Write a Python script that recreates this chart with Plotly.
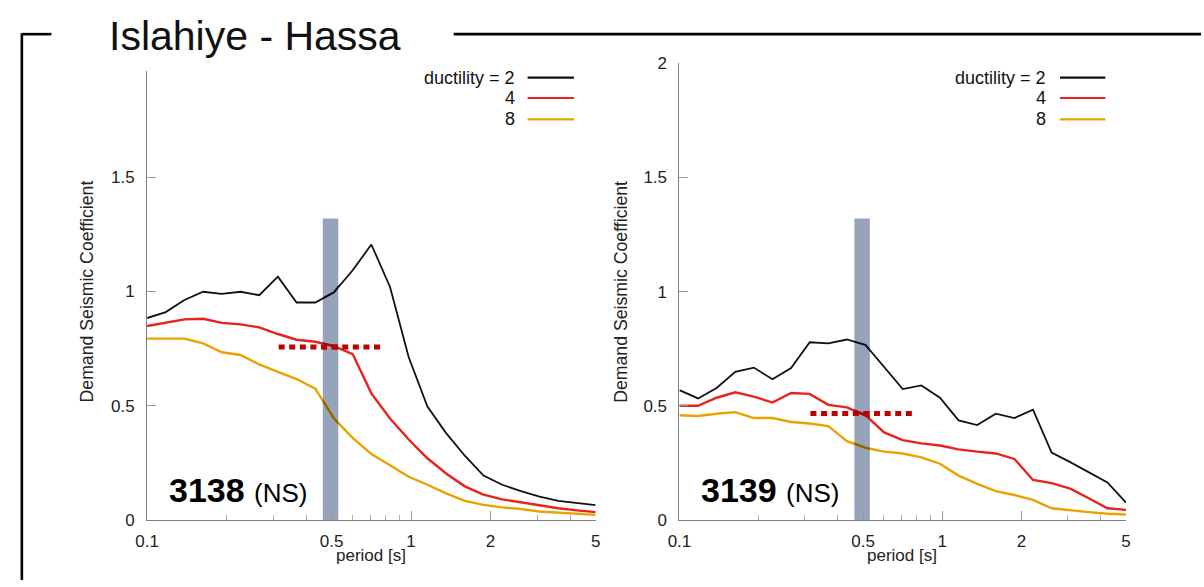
import math
import plotly.graph_objects as go

W, H = 1204, 587

# ---------------- data ----------------
periods = [0.1, 0.1177, 0.1385, 0.1631, 0.1919, 0.2259, 0.2659, 0.313, 0.3684, 0.4336,
           0.5104, 0.6008, 0.7071, 0.8323, 0.9796, 1.1531, 1.3572, 1.5975, 1.8803,
           2.2131, 2.605, 3.0661, 3.6089, 4.2478, 5.0]

s3138_mu2 = [0.884, 0.910, 0.963, 0.999, 0.990, 0.999, 0.984, 1.065, 0.952, 0.952, 0.997,
             1.093, 1.206, 1.02, 0.712, 0.496, 0.380, 0.281, 0.194, 0.154, 0.126, 0.102,
             0.083, 0.073, 0.065]
s3138_mu4 = [0.849, 0.863, 0.878, 0.881, 0.863, 0.856, 0.843, 0.814, 0.789, 0.780, 0.761,
             0.726, 0.554, 0.444, 0.352, 0.270, 0.203, 0.147, 0.111, 0.090, 0.077, 0.062,
             0.051, 0.042, 0.034]
s3138_mu8 = [0.794, 0.795, 0.794, 0.773, 0.734, 0.722, 0.681, 0.648, 0.617, 0.575, 0.444,
             0.359, 0.288, 0.239, 0.189, 0.154, 0.116, 0.083, 0.066, 0.055, 0.048, 0.037,
             0.031, 0.026, 0.022]

s3139_mu2 = [0.568, 0.532, 0.578, 0.648, 0.667, 0.616, 0.665, 0.778, 0.773, 0.790, 0.766,
             0.670, 0.573, 0.589, 0.535, 0.436, 0.415, 0.465, 0.446, 0.483, 0.295, 0.253,
             0.208, 0.164, 0.076]
s3139_mu4 = [0.500, 0.500, 0.535, 0.559, 0.540, 0.514, 0.556, 0.552, 0.504, 0.493, 0.458,
             0.383, 0.349, 0.335, 0.326, 0.309, 0.299, 0.291, 0.267, 0.175, 0.161, 0.137,
             0.095, 0.051, 0.044]
s3139_mu8 = [0.458, 0.455, 0.465, 0.472, 0.446, 0.446, 0.429, 0.422, 0.411, 0.345, 0.316,
             0.299, 0.291, 0.274, 0.246, 0.194, 0.158, 0.126, 0.109, 0.088, 0.051, 0.041,
             0.034, 0.027, 0.024]

ductilities = ["2", "4", "8"]
stations = ["3138", "3139"]
component = "(NS)"

band_period = [0.463, 0.530]
band_top = 1.32
target_period = [0.315, 0.785]
target_coef = [0.757, 0.466]

x_tickvals = [0.1, 0.5, 1, 2, 5]
x_ticktext = ["0.1", "0.5", "1", "2", "5"]
x_minor = [0.2, 0.3, 0.4, 0.6, 0.7, 0.8, 0.9, 3, 4]
y_tickvals_left = [0, 0.5, 1, 1.5]
y_ticktext_left = ["0", "0.5", "1", "1.5"]
y_tickvals_right = [0, 0.5, 1, 1.5, 2]
y_ticktext_right = ["0", "0.5", "1", "1.5", "2"]

# ---------------- styles ----------------
FONT = "Liberation Sans, Arial, Helvetica, sans-serif"
colors = ["#111111", "#e8231b", "#e9a200"]
colors_in_band = ["#111111", "#8a1614", "#8a6800"]   # line colour seen through the band
widths = [1.8, 2.4, 2.4]
BAND = "#97a3bb"
DOT = "#c00000"
DOT_DASH = "6px,4.6px"

X_RANGE = [-1, math.log10(5)]


def px(x):
    return x / W


def py(y):
    return 1 - y / H


# plot areas in pixels (left, right, top)
areas = [(137, 592, 64), (677, 1130, 56)]
y_ranges = [[0, 1.966], [0, 2]]

fig = go.Figure()

panels = [
    ("x", "y", "x3", [s3138_mu2, s3138_mu4, s3138_mu8], target_coef[0]),
    ("x2", "y2", "x4", [s3139_mu2, s3139_mu4, s3139_mu8], target_coef[1]),
]

for xa, ya, xb, series, tgt in panels:
    for i, vals in enumerate(series):
        fig.add_trace(go.Scatter(x=periods, y=vals, mode="lines", xaxis=xa, yaxis=ya,
                                 line=dict(color=colors[i], width=widths[i]),
                                 showlegend=False, hoverinfo="skip"))
    fig.add_trace(go.Scatter(x=target_period, y=[tgt, tgt], mode="lines", xaxis=xa, yaxis=ya,
                             line=dict(color=DOT, width=5, dash=DOT_DASH),
                             showlegend=False, hoverinfo="skip"))
    fig.add_shape(type="rect", xref=xa, yref=ya, x0=band_period[0], x1=band_period[1],
                  y0=0, y1=band_top, fillcolor=BAND, line=dict(width=0), layer="below")
    # same curves seen through the translucent band (clipped by an overlay axis)
    for i, vals in enumerate(series):
        fig.add_trace(go.Scatter(x=periods, y=vals, mode="lines", xaxis=xb, yaxis=ya,
                                 line=dict(color=colors_in_band[i], width=widths[i]),
                                 showlegend=False, hoverinfo="skip"))
    fig.add_trace(go.Scatter(x=target_period, y=[tgt, tgt], mode="lines", xaxis=xb, yaxis=ya,
                             line=dict(color=DOT, width=5, dash=DOT_DASH),
                             showlegend=False, hoverinfo="skip"))

axis_common = dict(showline=True, linecolor="#7f7f7f", linewidth=1, ticks="inside",
                   tickcolor="#9a9a9a", ticklen=9, tickwidth=1, showgrid=False,
                   zeroline=False, tickfont=dict(family=FONT, size=17, color="#222222"))

xcommon = dict(axis_common, type="log", range=X_RANGE, tickmode="array",
               tickvals=x_tickvals, ticktext=x_ticktext, ticklabelstandoff=6,
               minor=dict(tickmode="array", tickvals=x_minor, ticks="inside", ticklen=5,
                          tickcolor="#b0b0b0", tickwidth=1, showgrid=False))


def band_axis(area, anchor):
    l, r, _ = area
    span = X_RANGE[1] - X_RANGE[0]
    b0 = l + (math.log10(band_period[0]) - X_RANGE[0]) / span * (r - l)
    b1 = l + (math.log10(band_period[1]) - X_RANGE[0]) / span * (r - l)
    return dict(type="log", range=[math.log10(band_period[0]), math.log10(band_period[1])],
                domain=[px(b0), px(b1)], anchor=anchor, visible=False, showgrid=False,
                zeroline=False)


fig.update_layout(
    width=W, height=H, margin=dict(l=0, r=0, t=0, b=0),
    paper_bgcolor="white", plot_bgcolor="rgba(0,0,0,0)",
    showlegend=False,
    xaxis=dict(xcommon, domain=[px(areas[0][0]), px(areas[0][1])], anchor="y"),
    xaxis2=dict(xcommon, domain=[px(areas[1][0]), px(areas[1][1])], anchor="y2"),
    xaxis3=band_axis(areas[0], "y"),
    xaxis4=band_axis(areas[1], "y2"),
    yaxis=dict(axis_common, range=y_ranges[0], domain=[py(528), py(areas[0][2])], anchor="x",
               tickmode="array", tickvals=y_tickvals_left, ticktext=y_ticktext_left,
               ticklabelstandoff=8),
    yaxis2=dict(axis_common, range=y_ranges[1], domain=[py(528), py(areas[1][2])], anchor="x2",
                tickmode="array", tickvals=y_tickvals_right, ticktext=y_ticktext_right,
                ticklabelstandoff=8),
)

# frame lines
for (x0, y0, x1, y1) in [(10, 26, 40, 26), (10, 25, 10, 590), (448, 26, 1206, 26)]:
    fig.add_shape(type="line", xref="paper", yref="paper", x0=px(x0), y0=py(y0),
                  x1=px(x1), y1=py(y1), line=dict(color="black", width=2.6))

anns = []
anns.append(dict(text="Islahiye - Hassa", x=px(96), y=py(28), xanchor="left",
                 yanchor="middle", font=dict(family=FONT, size=41, color="#111111")))

for k, (legx, lx0, lx1, titx, perx, stx) in enumerate([
        (512, 523, 570, 76, 364, 157),
        (1051, 1063, 1109, 617, 903, 697)]):
    labels = ["ductility = " + ductilities[0], ductilities[1], ductilities[2]]
    for r, (lab, yy) in enumerate(zip(labels, [71, 92, 114])):
        anns.append(dict(text=lab, x=px(legx), y=py(yy), xanchor="right", yanchor="middle",
                         font=dict(family=FONT, size=18, color="#111111")))
        fig.add_shape(type="line", xref="paper", yref="paper", x0=px(lx0), x1=px(lx1),
                      y0=py(yy), y1=py(yy), line=dict(color=colors[r], width=2.2))
    anns.append(dict(text="Demand Seismic Coefficient", x=px(titx), y=py(292),
                     xanchor="center", yanchor="middle", textangle=-90,
                     font=dict(family=FONT, size=17.7, color="#222222")))
    anns.append(dict(text="period [s]", x=px(perx), y=py(565), xanchor="center",
                     yanchor="middle", font=dict(family=FONT, size=17, color="#222222")))
    anns.append(dict(text="<b>" + stations[k] + "</b> <span style='font-size:26px'>" + component + "</span>",
                     x=px(stx), y=py(497), xanchor="left", yanchor="middle",
                     font=dict(family=FONT, size=34, color="#000000")))

for a in anns:
    a.update(xref="paper", yref="paper", showarrow=False)
fig.update_layout(annotations=anns)

fig.write_html("out.html")
